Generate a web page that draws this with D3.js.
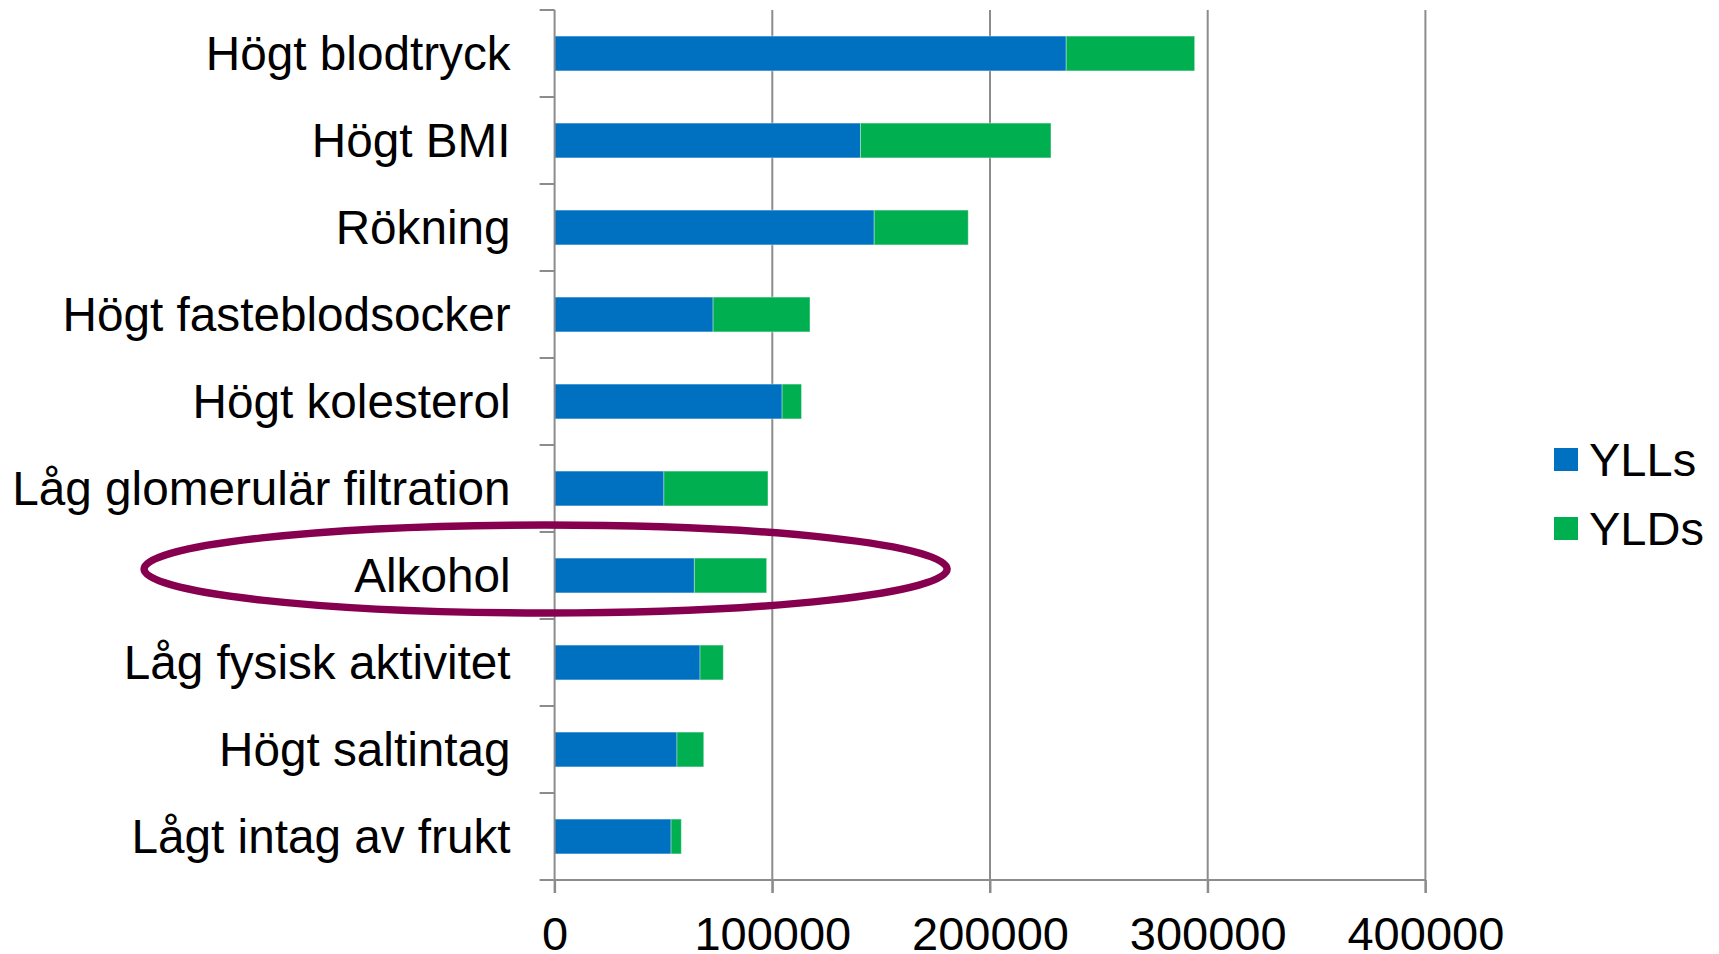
<!DOCTYPE html>
<html>
<head>
<meta charset="utf-8">
<script src="https://cdn.jsdelivr.net/npm/d3@7"></script>
<style>
  body { margin: 0; background: #fff; }
  svg { display: block; font-family: "Liberation Sans", Arial, sans-serif; }
</style>
</head>
<body>
<div id="chart-area"></div>
<script>

// Risk factors, top to bottom
var categories = [
    "Högt blodtryck",
    "Högt BMI",
    "Rökning",
    "Högt fasteblodsocker",
    "Högt kolesterol",
    "Låg glomerulär filtration",
    "Alkohol",
    "Låg fysisk aktivitet",
    "Högt saltintag",
    "Lågt intag av frukt"
];

// Years of life lost
var ylls = [235000, 140500, 146800, 72800, 104500, 50200, 64200, 66800, 56200, 53500];

// Years lived with disability
var ylds = [59000, 87500, 43200, 44500, 8900, 47800, 33200, 10700, 12300, 4700];

var seriesNames = ["YLLs", "YLDs"];
var seriesColors = ["#0070C0", "#00B050"];
var xTicks = [0, 100000, 200000, 300000, 400000];

var width = 1719, height = 954;

var svg = d3.select("#chart-area").append("svg")
    .attr("width", width)
    .attr("height", height);

// Scales
var x = d3.scaleLinear()
    .domain([0, 400000])
    .range([554.6, 1425.4]);

var y = d3.scaleBand()
    .domain(categories)
    .range([10, 880])
    .paddingInner(0.6)
    .paddingOuter(0.3);

// Stack the two series
var rows = categories.map(function(c, i) {
    return { cat: c, YLLs: ylls[i], YLDs: ylds[i] };
});
var stacked = d3.stack().keys(seriesNames)(rows);

var gridColor = "#8c8c8c";

// Vertical gridlines
svg.append("g").attr("class", "grid")
    .selectAll("line")
    .data(xTicks.filter(function(d) { return d > 0; }))
    .enter().append("line")
    .attr("x1", function(d) { return x(d); })
    .attr("x2", function(d) { return x(d); })
    .attr("y1", 10)
    .attr("y2", 893)
    .attr("stroke", gridColor)
    .attr("stroke-width", 2);

// Bars
svg.append("g").selectAll("g")
    .data(stacked)
    .enter().append("g")
    .attr("fill", function(d, i) { return seriesColors[i]; })
    .selectAll("rect")
    .data(function(d) { return d; })
    .enter().append("rect")
    .attr("x", function(d) { return x(d[0]); })
    .attr("width", function(d) { return x(d[1]) - x(d[0]); })
    .attr("y", function(d) { return y(d.data.cat); })
    .attr("height", y.bandwidth())
    .attr("stroke", "rgba(255,255,255,0.35)")
    .attr("stroke-width", 1);

// X axis
var xAxis = d3.axisBottom(x)
    .tickValues(xTicks)
    .tickFormat(d3.format("d"))
    .tickSize(13)
    .tickSizeOuter(0)
    .tickPadding(23.5);

var xg = svg.append("g")
    .attr("transform", "translate(0,880)")
    .call(xAxis);
xg.select(".domain").remove();
xg.selectAll(".tick line").attr("stroke", gridColor).attr("stroke-width", 2);
xg.selectAll(".tick text")
    .attr("fill", "#000")
    .style("font-size", "47px")
    .style("font-family", "'Liberation Sans', Arial, sans-serif");
xg.append("line")
    .attr("x1", 540).attr("x2", x(400000))
    .attr("y1", 0).attr("y2", 0)
    .attr("stroke", gridColor).attr("stroke-width", 2);

// Y axis: labels at band centres, tick marks between bands
var yAxis = d3.axisLeft(y).tickSize(0).tickPadding(44);
var yg = svg.append("g")
    .attr("transform", "translate(" + x(0) + ",0)")
    .call(yAxis);
yg.select(".domain").remove();
yg.selectAll(".tick text")
    .attr("fill", "#000")
    .attr("dy", "0.35em")
    .style("font-size", "47.7px")
    .style("font-family", "'Liberation Sans', Arial, sans-serif");

var boundaries = d3.range(categories.length + 1).map(function(i) {
    return 10 + i * y.step();
});
yg.selectAll(".btick")
    .data(boundaries)
    .enter().append("line")
    .attr("class", "btick")
    .attr("x1", -15).attr("x2", 0)
    .attr("y1", function(d) { return d; })
    .attr("y2", function(d) { return d; })
    .attr("stroke", gridColor).attr("stroke-width", 2);
yg.append("line")
    .attr("x1", 0).attr("x2", 0)
    .attr("y1", 10).attr("y2", 893)
    .attr("stroke", gridColor).attr("stroke-width", 2);

// Legend
var legend = svg.append("g").attr("class", "legend")
    .selectAll("g")
    .data(seriesNames)
    .enter().append("g")
    .attr("transform", function(d, i) { return "translate(1554," + (448 + i * 69) + ")"; });
legend.append("rect")
    .attr("width", 24).attr("height", 23)
    .attr("fill", function(d, i) { return seriesColors[i]; });
legend.append("text")
    .attr("x", 35).attr("y", 27.6)
    .style("font-size", "47px")
    .attr("fill", "#000")
    .text(function(d) { return d; });

// Highlight ellipse around "Alkohol"
var alkY = y("Alkohol") + y.bandwidth() / 2 - 6.5;
svg.append("ellipse")
    .attr("cx", x(0) - 9)
    .attr("cy", alkY)
    .attr("rx", 401.5)
    .attr("ry", 44)
    .attr("fill", "none")
    .attr("stroke", "#86004f")
    .attr("stroke-width", 7.5);

</script>
</body>
</html>
